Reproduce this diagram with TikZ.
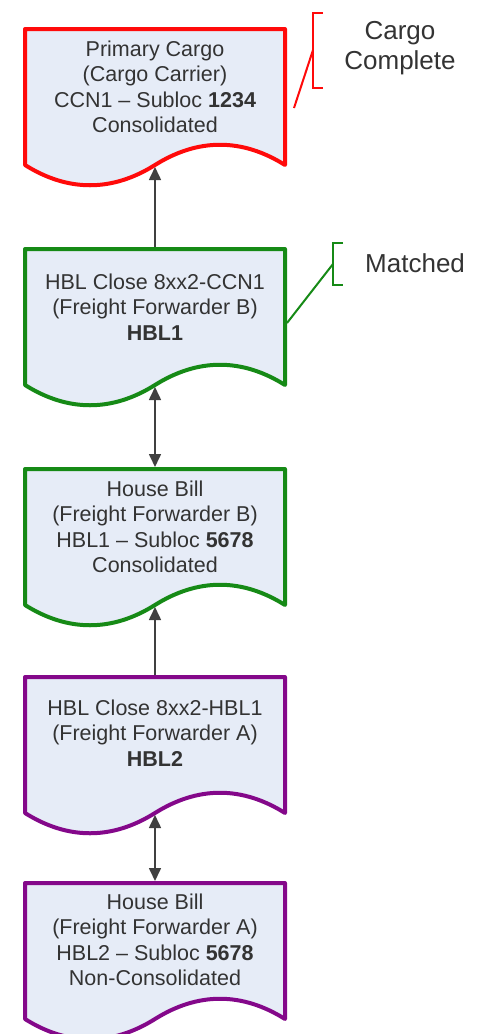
\documentclass[tikz,border=0pt]{standalone}
\usepackage{fontspec}
\setmainfont{Liberation Sans}
\usetikzlibrary{arrows.meta,calc,positioning}

\definecolor{docfill}{HTML}{E6ECF7}
\definecolor{docred}{HTML}{FF0A0A}
\definecolor{docgreen}{HTML}{168A16}
\definecolor{docpurple}{HTML}{84088A}
\definecolor{txtgray}{HTML}{333333}
\definecolor{linkgray}{HTML}{404040}

% document shape with wavy bottom: name, top y, border colour
\newcommand{\docshape}[3]{%
  \coordinate (#1-top) at (155,#2);
  \coordinate (#1-bot) at (155,#2+136);
  \filldraw[docline,draw=#3] (25,#2) -- (285,#2) -- (285,#2+136)
    .. controls (242,#2+109) and (198,#2+109) .. (#1-bot)
    .. controls (112,#2+163) and (68,#2+163) .. (25,#2+136) -- cycle;
}

\begin{document}
\begin{tikzpicture}[x=1pt,y=-1pt,
    docline/.style={fill=docfill,line width=4pt,line join=round},
    doctext/.style={align=center,inner sep=0pt,text=txtgray,
      font=\fontsize{21.5}{25.5}\selectfont},
    sidelabel/.style={align=center,inner sep=0pt,text=txtgray,
      font=\fontsize{26}{30}\selectfont},
    link/.style={draw=linkgray,line width=1.6pt,shorten <=2pt,shorten >=2pt},
    bracket/.style={line width=2pt},
    >={Triangle[length=13pt,width=12pt]}]
  \useasboundingbox (0,0) rectangle (479,1034);

  % Primary cargo (cargo carrier)
  \docshape{primary}{29}{docred}
  \node[doctext] (primary) at (155,87)
    {Primary Cargo\\(Cargo Carrier)\\CCN1 – Subloc \textbf{1234}\\Consolidated};

  % HBL close, freight forwarder B
  \docshape{closeB}{249}{docgreen}
  \node[doctext] (closeB) at (155,307)
    {HBL Close 8xx2-CCN1\\(Freight Forwarder B)\\\textbf{HBL1}};

  % House bill, freight forwarder B
  \docshape{houseB}{469}{docgreen}
  \node[doctext] (houseB) at (155,527)
    {House Bill\\(Freight Forwarder B)\\HBL1 – Subloc \textbf{5678}\\Consolidated};

  % HBL close, freight forwarder A
  \docshape{closeA}{677}{docpurple}
  \node[doctext] (closeA) at (155,733)
    {HBL Close 8xx2-HBL1\\(Freight Forwarder A)\\\textbf{HBL2}};

  % House bill, freight forwarder A
  \docshape{houseA}{883}{docpurple}
  \node[doctext] (houseA) at (155,940)
    {House Bill\\(Freight Forwarder A)\\HBL2 – Subloc \textbf{5678}\\Non-Consolidated};

  % Links between the documents
  \draw[link,->] (closeB-top) -- (primary-bot);
  \draw[link,<->] (houseB-top) -- (closeB-bot);
  \draw[link,->] (closeA-top) -- (houseB-bot);
  \draw[link,<->] (houseA-top) -- (closeA-bot);

  % Status callouts
  \node[sidelabel] (cargoLbl) at (400,48) {Cargo\\Complete};
  \coordinate (cargoBr) at (313,50);
  \coordinate (cargoFoot) at (294,108);
  \draw[bracket,docred] (323,13) -- (313,13) -- (313,88) -- (323,88);
  \draw[bracket,docred] (cargoFoot) -- (cargoBr);

  \node[sidelabel,anchor=west] (matchLbl) at (365,263) {Matched};
  \coordinate (matchBr) at (333,264);
  \coordinate (matchFoot) at (287,323);
  \draw[bracket,docgreen] (343,243) -- (333,243) -- (333,285) -- (343,285);
  \draw[bracket,docgreen] (matchFoot) -- (matchBr);

\end{tikzpicture}
\end{document}
